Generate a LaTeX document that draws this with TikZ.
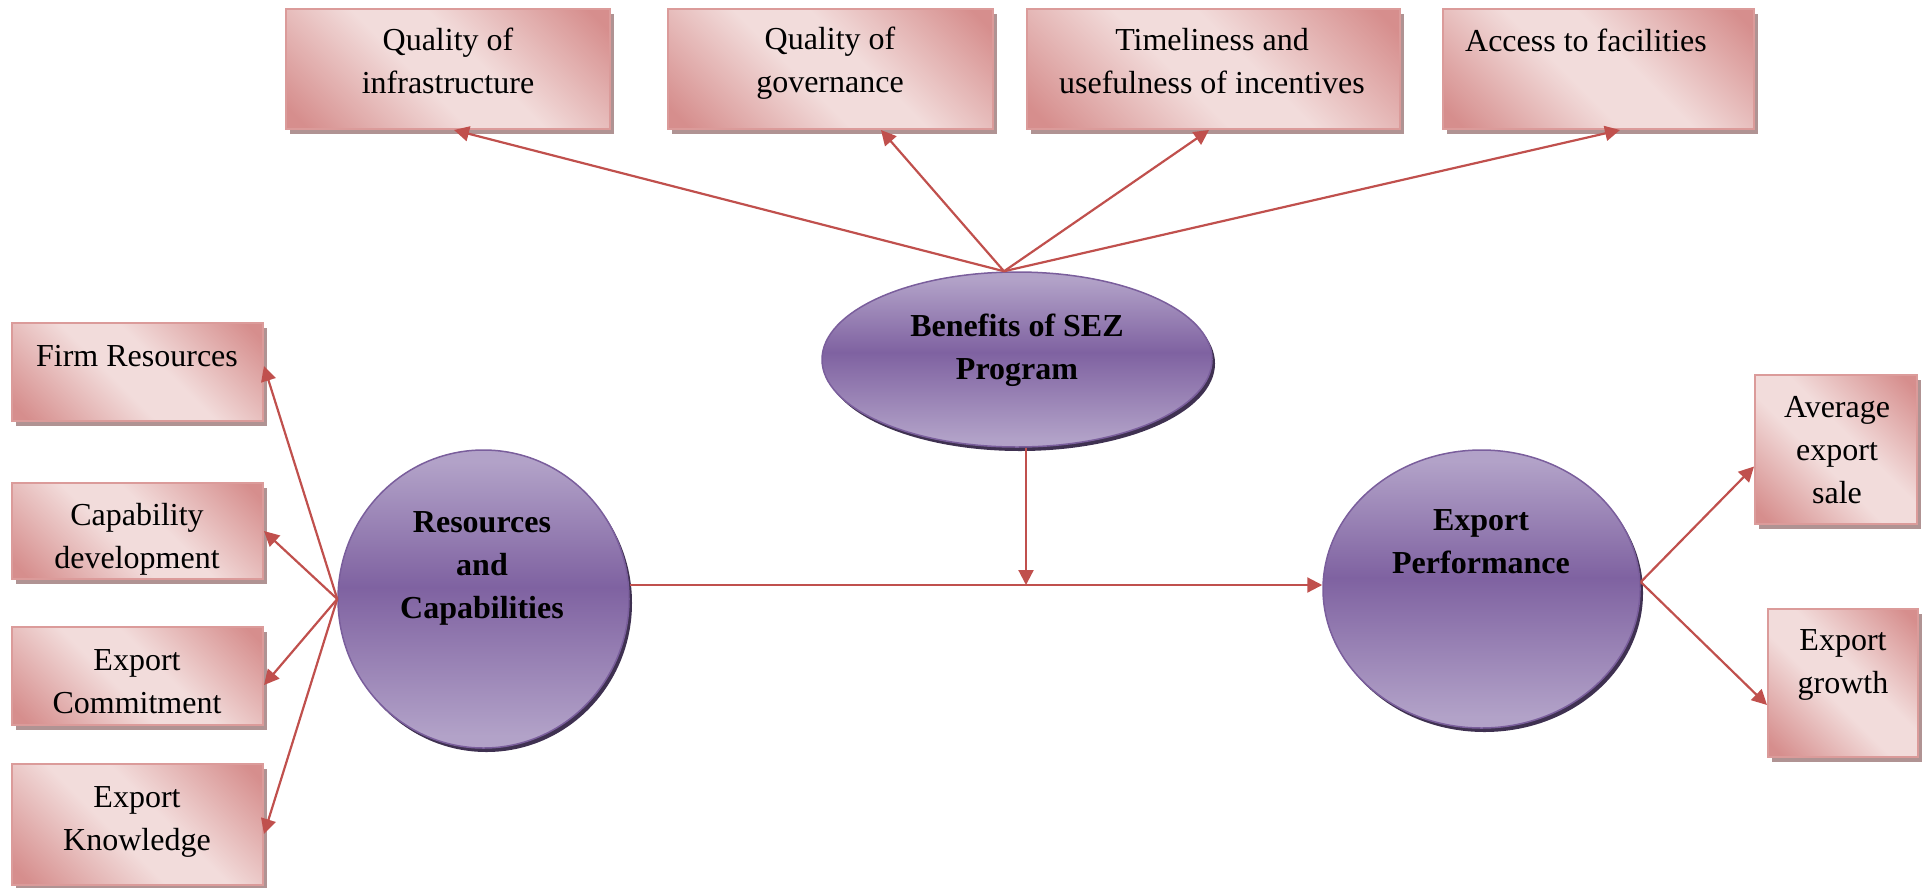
\documentclass[tikz,border=0pt]{standalone}
\usepackage{fontspec}
\setmainfont{Liberation Serif}
\usetikzlibrary{arrows.meta,shapes.geometric,shadows}

% palette
\definecolor{pinkL}{HTML}{F2DCDB}
\definecolor{pinkD}{HTML}{D68E8D}
\definecolor{pinkB}{HTML}{DB9B9A}
\definecolor{pinkS}{HTML}{B09393}
\definecolor{purL}{HTML}{B2A2C8}
\definecolor{purD}{HTML}{7F62A1}
\definecolor{purB}{HTML}{7A5E9C}
\definecolor{purS}{HTML}{3F3151}
\definecolor{arrowred}{HTML}{C0504D}

% gradient fills
\pgfdeclarehorizontalshading{pinkband}{100bp}{color(0bp)=(pinkD); color(18bp)=(pinkD); color(44bp)=(pinkL); color(56bp)=(pinkL); color(82bp)=(pinkD); color(100bp)=(pinkD)}
\pgfdeclareverticalshading{purpband}{100bp}{color(0bp)=(purL); color(27bp)=(purL); color(52bp)=(purD); color(73bp)=(purL); color(100bp)=(purL)}

\tikzset{
  pbox/.style={rectangle, draw=pinkB, line width=2pt, shading=pinkband, shading angle=45,
    drop shadow={shadow xshift=4pt, shadow yshift=-5pt, fill=pinkS, opacity=1}, inner sep=0pt},
  pell/.style={ellipse, draw=purB, line width=1.5pt, shading=purpband,
    drop shadow={shadow xshift=3pt, shadow yshift=-4pt, fill=purS, opacity=1}, inner sep=0pt},
  ptxt/.style={align=center, inner sep=0pt, font=\fontsize{32}{43}\selectfont},
  etxt/.style={align=center, inner sep=0pt, font=\fontsize{32}{43}\selectfont\bfseries},
  arr/.style={draw=arrowred, line width=2.2pt, -{Triangle[length=15pt,width=15pt]}},
}

\begin{document}
\begin{tikzpicture}[x=1pt, y=-1pt]
\useasboundingbox (0,0) rectangle (1924,887);

% top row: benefits
\node[pbox, minimum width=324pt, minimum height=120pt] (q1) at (448,69) {};
\node[pbox, minimum width=325pt, minimum height=120pt] (q2) at (830.5,69) {};
\node[pbox, minimum width=373pt, minimum height=120pt] (q3) at (1213.5,69) {};
\node[pbox, minimum width=311pt, minimum height=120pt] (q4) at (1598.5,69) {};

% left column: resources
\node[pbox, minimum width=251pt, minimum height=98pt] (fr) at (137.5,372) {};
\node[pbox, minimum width=251pt, minimum height=96pt] (cd) at (137.5,531) {};
\node[pbox, minimum width=251pt, minimum height=98pt] (ec) at (137.5,676) {};
\node[pbox, minimum width=251pt, minimum height=121pt] (ek) at (137.5,824) {};

% right column: performance measures
\node[pbox, minimum width=162pt, minimum height=149pt] (av) at (1836,449.5) {};
\node[pbox, minimum width=150pt, minimum height=148pt] (eg) at (1843,683) {};

% constructs
\node[pell, minimum width=390pt, minimum height=175pt] (sez) at (1017,359.5) {};
\node[pell, minimum width=291pt, minimum height=298pt] (rc) at (483.5,599) {};
\node[pell, minimum width=317pt, minimum height=278pt] (ep) at (1481.5,589) {};

% labels
\node[ptxt] (tq1) at (448,61) {Quality of\\infrastructure};
\node[ptxt] (tq2) at (830,63) {Quality of\\governance};
\node[ptxt] (tq3) at (1212,61) {Timeliness and\\usefulness of incentives};
\node[ptxt] (tq4) at (1586,40) {Access to facilities};
\node[ptxt] (tfr) at (137,356) {Firm Resources};
\node[ptxt] (tcd) at (137,539) {Capability\\development};
\node[ptxt] (tec) at (137,682) {Export\\Commitment};
\node[ptxt] (tek) at (137,822) {Export\\Knowledge};
\node[ptxt] (tav) at (1837,450) {Average\\export\\sale};
\node[ptxt] (teg) at (1843,665) {Export\\growth};
\node[etxt] (tsez) at (1017,350) {Benefits of SEZ\\Program};
\node[etxt] (trc) at (482,568) {Resources\\and\\Capabilities};
\node[etxt] (tep) at (1481,542) {Export\\Performance};

% connectors
\coordinate (jn) at (1026,585);
\draw[arr] ([xshift=-13pt]sez.north) -- ([xshift=6pt]q1.south);
\draw[arr] ([xshift=-13pt]sez.north) -- ([xshift=50.5pt]q2.south);
\draw[arr] ([xshift=-13pt]sez.north) -- ([xshift=-4.5pt]q3.south);
\draw[arr] ([xshift=-13pt]sez.north) -- ([xshift=21.5pt]q4.south);
\draw[arr] ([xshift=9pt]sez.south) -- (jn);
\draw[arr] (rc.east |- jn) -- (ep.west |- jn);

\draw[arr] (rc.west) -- ([yshift=6pt]fr.east);
\draw[arr] (rc.west) -- (cd.east);
\draw[arr] (rc.west) -- ([yshift=-9pt]ec.east);
\draw[arr] (rc.west) -- ([yshift=-10pt]ek.east);

\draw[arr] ([yshift=7pt]ep.east) -- ([yshift=-17pt]av.west);
\draw[arr] ([yshift=7pt]ep.east) -- ([yshift=-22pt]eg.west);
\end{tikzpicture}
\end{document}
